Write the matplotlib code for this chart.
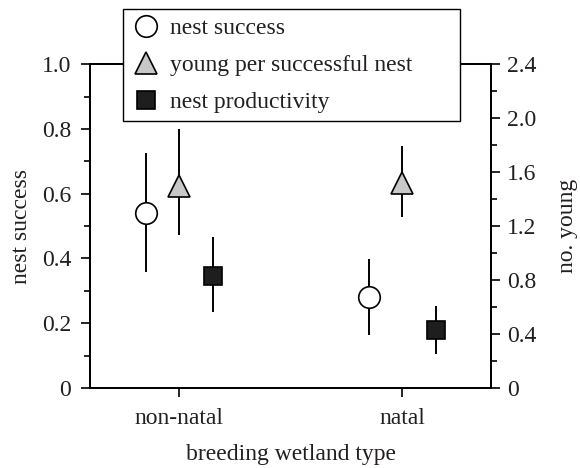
import matplotlib
matplotlib.use("Agg")
import matplotlib.pyplot as plt
from matplotlib.lines import Line2D
import numpy as np

plt.rcParams['font.family'] = ['Liberation Serif', 'DejaVu Serif']
TXT = '#231f20'

categories = ["non-natal", "natal"]
nest_success = [0.54, 0.28]
nest_success_lo = [0.358, 0.164]
nest_success_hi = [0.725, 0.398]
young_per_nest = [1.50, 1.52]
young_lo = [1.13, 1.27]
young_hi = [1.92, 1.79]
productivity = [0.83, 0.43]
prod_lo = [0.56, 0.25]
prod_hi = [1.12, 0.61]

fig = plt.figure(figsize=(5.8, 4.68), dpi=100)
ax = fig.add_axes([0.155, 0.171, 0.692, 0.692])
ax2 = ax.twinx()

x = np.arange(len(categories))
off = 0.15
ms = 15.5
lw_e = 1.4

def err(vals, lo, hi):
    v = np.array(vals); return [v - np.array(lo), np.array(hi) - v]

ax.errorbar(x - off, nest_success, yerr=err(nest_success, nest_success_lo, nest_success_hi),
            fmt='o', ms=ms, mfc='white', mec='black', mew=1.2, ecolor='black', elinewidth=lw_e,
            capsize=0, zorder=3)
ax2.errorbar(x, young_per_nest, yerr=err(young_per_nest, young_lo, young_hi),
             fmt='^', ms=ms, mfc='#c8c8c8', mec='black', mew=1.2, ecolor='black', elinewidth=lw_e,
             capsize=0, zorder=3)
ax2.errorbar(x + off, productivity, yerr=err(productivity, prod_lo, prod_hi),
             fmt='s', ms=13.5, mfc='#1e1e1e', mec='black', mew=1.2, ecolor='black', elinewidth=lw_e,
             capsize=0, zorder=3)

ax.set_xlim(-0.4, 1.4)
ax.set_ylim(0, 1.0)
ax2.set_ylim(0, 2.4)
ax.set_xticks(x)
ax.set_xticklabels(categories)
ax.set_yticks([0, 0.2, 0.4, 0.6, 0.8, 1.0])
ax.set_yticklabels(["0", "0.2", "0.4", "0.6", "0.8", "1.0"])
ax.set_yticks(np.arange(0.1, 1.0, 0.2), minor=True)
ax2.set_yticks([0, 0.4, 0.8, 1.2, 1.6, 2.0, 2.4])
ax2.set_yticklabels(["0", "0.4", "0.8", "1.2", "1.6", "2.0", "2.4"])
ax2.set_yticks(np.arange(0.2, 2.4, 0.4), minor=True)

FS = 17
for a in (ax, ax2):
    a.tick_params(axis='both', which='major', direction='out', length=6.5, width=1.2,
                  labelsize=FS, colors='black', labelcolor=TXT)
    a.tick_params(axis='both', which='minor', direction='out', length=4.5, width=1.2)
    for s in a.spines.values():
        s.set_linewidth(1.3)
ax.tick_params(axis='y', which='major', pad=7)
ax2.tick_params(axis='y', which='major', pad=5)
ax.tick_params(axis='x', which='major', pad=8)

ax.set_ylabel("nest success", fontsize=FS, color=TXT, labelpad=7)
ax2.set_ylabel("no. young", fontsize=FS, color=TXT, labelpad=15)
ax.set_xlabel("breeding wetland type", fontsize=FS, color=TXT, labelpad=11)

handles = [
    Line2D([], [], ls='none', marker='o', ms=ms, mfc='white', mec='black', mew=1.2),
    Line2D([], [], ls='none', marker='^', ms=ms, mfc='#c8c8c8', mec='black', mew=1.2),
    Line2D([], [], ls='none', marker='s', ms=13.5, mfc='#1e1e1e', mec='black', mew=1.2),
]
labels = ["nest success", "young per successful nest", "nest productivity"]
leg = ax2.legend(handles, labels, loc='upper left', bbox_to_anchor=(0.082, 0.824, 0.841, 0.346),
                 mode='expand',
                 fontsize=FS, frameon=True, fancybox=False, framealpha=1,
                 edgecolor='black', handletextpad=0.35, labelspacing=0.66, borderpad=0.35,
                 handlelength=1.3, borderaxespad=0)
for t in leg.get_texts():
    t.set_color(TXT)
leg.get_frame().set_linewidth(1.0)

fig.savefig("out.png", dpi=100)
